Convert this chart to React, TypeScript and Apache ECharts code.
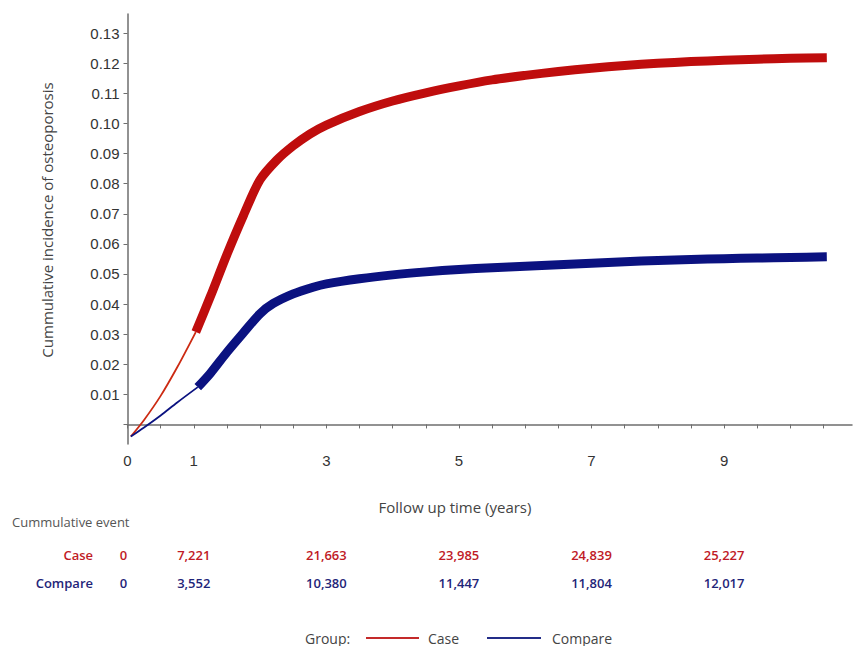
import React, { useEffect, useRef } from "react";
import * as echarts from "echarts";

// Cumulative incidence curves (years, cumulative incidence)
const caseEarly: [number, number][] = [
  [0.05, -0.004], [0.25, 0.0015], [0.5, 0.0095], [0.75, 0.019], [1.03, 0.0307],
];
const caseLate: [number, number][] = [
  [1.03, 0.0307], [1.25, 0.0425], [1.5, 0.0565], [1.75, 0.0695], [2.0, 0.0813],
  [2.25, 0.0878], [2.5, 0.0926], [2.75, 0.0965], [3.0, 0.0995], [3.5, 0.104],
  [4.0, 0.1075], [4.5, 0.1102], [5.0, 0.1125], [5.5, 0.1145], [6.0, 0.116],
  [6.5, 0.1173], [7.0, 0.1184], [7.5, 0.1193], [8.0, 0.12], [8.5, 0.1206],
  [9.0, 0.121], [9.5, 0.1214], [10.0, 0.1217], [10.55, 0.1219],
];
const compareEarly: [number, number][] = [
  [0.05, -0.004], [0.25, -0.001], [0.5, 0.003], [0.75, 0.0073], [1.06, 0.0124],
];
const compareLate: [number, number][] = [
  [1.06, 0.0124], [1.25, 0.017], [1.5, 0.024], [1.75, 0.0305], [2.0, 0.0368],
  [2.2, 0.0402], [2.5, 0.0434], [2.8, 0.0456], [3.0, 0.0467], [3.5, 0.0484],
  [4.0, 0.0497], [4.5, 0.0507], [5.0, 0.0515], [5.5, 0.0521], [6.0, 0.0526],
  [6.5, 0.0531], [7.0, 0.0536], [7.5, 0.0541], [8.0, 0.0545], [8.5, 0.0548],
  [9.0, 0.0551], [9.5, 0.0553], [10.0, 0.0555], [10.55, 0.0557],
];

const yLabelValues = [0.01, 0.02, 0.03, 0.04, 0.05, 0.06, 0.07, 0.08, 0.09, 0.1, 0.11, 0.12, 0.13];
const yTickValues = [0, 0.01, 0.02, 0.03, 0.04, 0.05, 0.06, 0.07, 0.08, 0.09, 0.1, 0.11, 0.12, 0.13];
const xLabelValues = [0, 1, 3, 5, 7, 9];
const xTickValues = [0, 0.5, 1, 1.5, 2, 2.5, 3, 3.5, 4, 4.5, 5, 5.5, 6, 6.5, 7, 7.5, 8, 8.5, 9, 9.5, 10, 10.5];

const tableTimes = [0, 1, 3, 5, 7, 9];
const caseEvents = ["0", "7,221", "21,663", "23,985", "24,839", "25,227"];
const compareEvents = ["0", "3,552", "10,380", "11,447", "11,804", "12,017"];
const groupNames = ["Case", "Compare"];

const RED = "#bf0d0d";
const RED_THIN = "#cc2a12";
const BLUE = "#0b1280";
const TXT_RED = "#c01a26";
const TXT_BLUE = "#1f2579";
const AXIS = "#6e6e6e";

export default function App() {
  const ref = useRef<HTMLDivElement>(null);

  useEffect(() => {
    if (!ref.current) return;
    const chart = echarts.init(ref.current, null, { renderer: "svg" });

    const lineSeries = (name: string, data: [number, number][], color: string, width: number) => ({
      name,
      type: "line",
      data,
      smooth: 0.3,
      showSymbol: false,
      symbol: "none",
      lineStyle: { color, width, cap: "butt", join: "round" },
      z: 3,
    });

    chart.setOption({
      animation: false,
      backgroundColor: "#ffffff",
      grid: { left: 127.5, right: 4, top: 14, bottom: 202, containLabel: false },
      xAxis: {
        type: "value",
        min: 0,
        max: 10.93,
        axisLine: { show: true, lineStyle: { color: AXIS, width: 1.5 } },
        axisTick: { show: true, length: 4, inside: false, customValues: xTickValues, lineStyle: { color: AXIS, width: 1 } },
        axisLabel: {
          customValues: xLabelValues,
          margin: 9,
          color: "#333",
          fontFamily: "Liberation Sans",
          fontSize: 15,
          formatter: (v: number) => String(v),
        },
        splitLine: { show: false },
      },
      yAxis: {
        type: "value",
        min: -0.0065,
        max: 0.1364,
        axisLine: { show: true, lineStyle: { color: AXIS, width: 1.5 } },
        axisTick: { show: true, length: 4, inside: false, customValues: yTickValues, lineStyle: { color: AXIS, width: 1 } },
        axisLabel: {
          customValues: yLabelValues,
          margin: 8,
          color: "#333",
          fontFamily: "Liberation Sans",
          fontSize: 15,
          formatter: (v: number) => v.toFixed(2),
        },
        splitLine: { show: false },
      },
      series: [
        lineSeries("Case", caseEarly, RED_THIN, 1.8),
        lineSeries("Case", caseLate, RED, 9),
        lineSeries("Compare", compareEarly, BLUE, 1.8),
        lineSeries("Compare", compareLate, BLUE, 9),
      ],
    });

    const px = (t: number) => chart.convertToPixel({ xAxisIndex: 0 }, t) as number;
    const tableFontStr = "600 13px 'Open Sans'";
    const graphics: any[] = [];

    graphics.push({
      type: "text",
      x: 47,
      y: 220,
      rotation: Math.PI / 2,
      style: {
        text: "Cummulative incidence of osteoporosis",
        fill: "#444",
        font: "15px 'Open Sans'",
        align: "center",
        verticalAlign: "middle",
      },
    });
    graphics.push({
      type: "text",
      x: 455,
      y: 507,
      style: { text: "Follow up time (years)", fill: "#444", font: "15px 'Open Sans'", align: "center", verticalAlign: "middle" },
    });
    graphics.push({
      type: "text",
      x: 12,
      y: 522,
      style: { text: "Cummulative event", fill: "#555", font: "13px 'Open Sans'", align: "left", verticalAlign: "middle" },
    });

    const rows = [
      { label: groupNames[0], values: caseEvents, color: TXT_RED, y: 555 },
      { label: groupNames[1], values: compareEvents, color: TXT_BLUE, y: 583 },
    ];
    rows.forEach((row) => {
      graphics.push({
        type: "text",
        x: 93,
        y: row.y,
        style: { text: row.label, fill: row.color, font: tableFontStr, align: "right", verticalAlign: "middle" },
      });
      row.values.forEach((v, i) => {
        const t = tableTimes[i];
        graphics.push({
          type: "text",
          x: px(t) + (t === 0 ? -4 : 0),
          y: row.y,
          style: { text: v, fill: row.color, font: tableFontStr, align: "center", verticalAlign: "middle" },
        });
      });
    });

    // Legend
    const legY = 638;
    graphics.push({
      type: "text",
      x: 305,
      y: legY,
      style: { text: "Group:", fill: "#444", font: "14px 'Open Sans'", align: "left", verticalAlign: "middle" },
    });
    graphics.push({ type: "line", shape: { x1: 366, y1: legY, x2: 419, y2: legY }, style: { stroke: "#c42a2a", lineWidth: 2 } });
    graphics.push({
      type: "text",
      x: 428,
      y: legY,
      style: { text: groupNames[0], fill: "#444", font: "14px 'Open Sans'", align: "left", verticalAlign: "middle" },
    });
    graphics.push({ type: "line", shape: { x1: 487, y1: legY, x2: 541, y2: legY }, style: { stroke: "#232d88", lineWidth: 2 } });
    graphics.push({
      type: "text",
      x: 552,
      y: legY,
      style: { text: groupNames[1], fill: "#444", font: "14px 'Open Sans'", align: "left", verticalAlign: "middle" },
    });

    chart.setOption({ graphic: graphics });

    return () => chart.dispose();
  }, []);

  return (
    <div
      ref={ref}
      style={{ position: "absolute", left: 0, top: 0, width: 856, height: 646, background: "#fff" }}
    />
  );
}
